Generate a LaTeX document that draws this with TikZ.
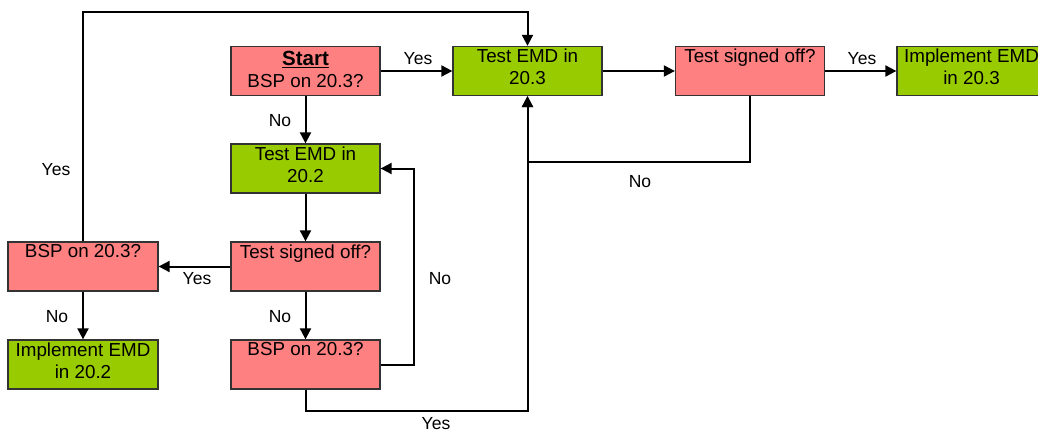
\documentclass[tikz,border=0pt]{standalone}
\usepackage{fontspec}
\setmainfont{Liberation Sans}
\usetikzlibrary{arrows.meta}
\definecolor{pinkbox}{HTML}{FF8080}
\definecolor{greenbox}{HTML}{99CC00}
\definecolor{edgegray}{HTML}{333333}
\begin{document}
\begin{tikzpicture}[x=1pt,y=-1pt,
 box/.style={draw=edgegray, line width=1.3pt, minimum width=149pt, minimum height=49pt, inner sep=0pt},
 pbox/.style={box, fill=pinkbox},
 gbox/.style={box, fill=greenbox},
 txt/.style={anchor=north, inner sep=0pt, align=center, font=\fontsize{18.8}{21.7}\selectfont, yshift=-3.2pt},
 lbl/.style={inner sep=0pt, font=\fontsize{17.5}{20}\selectfont},
 arr/.style={line width=2pt, -{Triangle[length=11pt,width=11pt]}}]
\useasboundingbox (0,0) rectangle (1038,433);
\clip (0,0) rectangle (1038,433);
% boxes
\node[pbox] (start) at (305.5,71) {};
\node[gbox] (t203) at (527.5,71) {};
\node[pbox] (so1) at (750,71) {};
\node[gbox] (imp3) at (971.5,71) {};
\node[gbox] (t202) at (305.5,168.5) {};
\node[pbox] (so2) at (305.5,266.5) {};
\node[pbox] (bspb) at (305.5,364.5) {};
\node[pbox,minimum width=150pt] (bspl) at (83,266.5) {};
\node[gbox,minimum width=150pt] (imp2) at (83,364.5) {};
% texts
\node[txt,yshift=-2pt] (start-t) at (start.north) {{\fontsize{20.5}{22}\selectfont\underline{\textbf{Start}}}\\BSP on 20.3?};
\node[txt] (t203-t) at (t203.north) {Test EMD in\\20.3};
\node[txt] (so1-t) at (so1.north) {Test signed off?};
\node[txt] (imp3-t) at (imp3.north) {Implement EMD\\in 20.3};
\node[txt] (t202-t) at (t202.north) {Test EMD in\\20.2};
\node[txt] (so2-t) at (so2.north) {Test signed off?};
\node[txt] (bspb-t) at (bspb.north) {BSP on 20.3?};
\node[txt] (bspl-t) at (bspl.north) {BSP on 20.3?};
\node[txt] (imp2-t) at (imp2.north) {Implement EMD\\in 20.2};
% helper coordinates
\coordinate (topY) at (0,12);
\coordinate (noY) at (0,162);
\coordinate (yesY) at (0,411);
\coordinate (rX) at (414,0);
% connectors
\draw[arr] (start.east) -- (t203.west);
\draw[arr] (t203.east) -- (so1.west);
\draw[arr] (so1.east) -- (imp3.west);
\draw[arr] (start.south) -- (t202.north);
\draw[arr] (t202.south) -- (so2.north);
\draw[arr] (so2.south) -- (bspb.north);
\draw[arr] (so2.west) -- (bspl.east);
\draw[arr] (bspl.south) -- (imp2.north);
\draw[arr] (bspl.north) -- (bspl.north |- topY) -- (t203.north |- topY) -- (t203.north);
\draw[arr] (so1.south) -- (so1.south |- noY) -- (t203.south |- noY) -- (t203.south);
\draw[arr] (bspb.south) -- (bspb.south |- yesY) -- (t203.south |- yesY) -- (t203.south);
\draw[arr] (bspb.east) -- (rX |- bspb.east) -- (rX |- t202.east) -- (t202.east);
% labels
\node[lbl] (l1) at (418,59) {Yes};
\node[lbl] (l2) at (862,59) {Yes};
\node[lbl] (l3) at (280,121) {No};
\node[lbl] (l4) at (640,182) {No};
\node[lbl] (l5) at (56,170) {Yes};
\node[lbl] (l6) at (197,279) {Yes};
\node[lbl] (l7) at (57,317) {No};
\node[lbl] (l8) at (280,317) {No};
\node[lbl] (l9) at (440,279) {No};
\node[lbl] (l10) at (436,424) {Yes};
\end{tikzpicture}
\end{document}
